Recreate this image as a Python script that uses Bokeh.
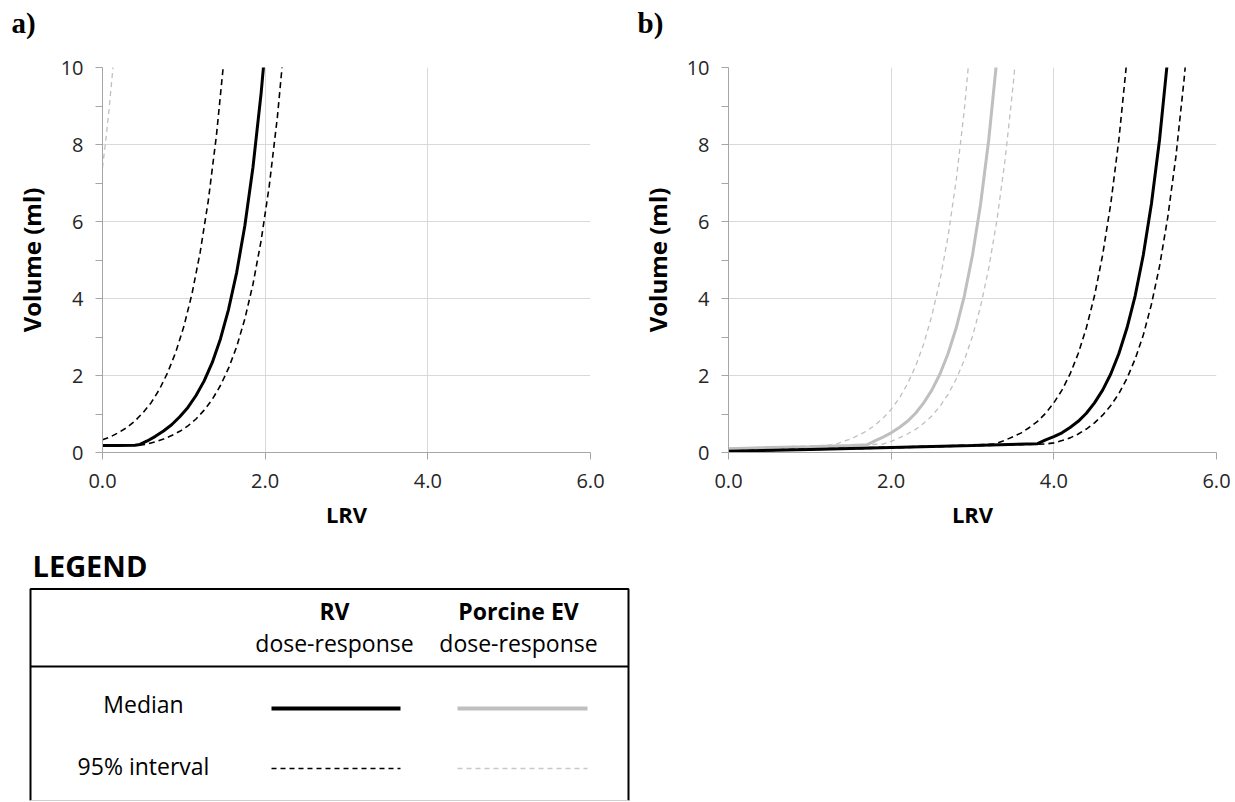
from bokeh.plotting import figure
from bokeh.layouts import column, row
from bokeh.models import Range1d, FixedTicker, NumeralTickFormatter
from bokeh.core.properties import value
from bokeh.embed import file_html
from bokeh.resources import INLINE

# ---------------- data ----------------
x_ticks = [0, 2, 4, 6]
y_ticks = [0, 2, 4, 6, 8, 10]
y_minor = [1, 3, 5, 7, 9]

# Panel a) - RV dose-response
a_rv_med_lrv = [0.0, 0.2, 0.4, 0.46, 0.55, 0.65, 0.75, 0.85, 0.95, 1.05, 1.15, 1.25,
                1.35, 1.45, 1.55, 1.65, 1.75, 1.85, 1.95, 2.0]
a_rv_med_vol = [0.18, 0.18, 0.19, 0.21, 0.30, 0.42, 0.56, 0.72, 0.93, 1.17, 1.48, 1.86,
                2.34, 2.95, 3.72, 4.68, 5.89, 7.41, 9.33, 10.5]
a_rv_lo_lrv = [0.0, 0.1, 0.2, 0.3, 0.4, 0.5, 0.6, 0.7, 0.8, 0.9, 1.0, 1.1, 1.2, 1.3, 1.4, 1.5]
a_rv_lo_vol = [0.33, 0.41, 0.52, 0.65, 0.82, 1.04, 1.30, 1.64, 2.07, 2.60, 3.27, 4.12,
               5.19, 6.53, 8.22, 10.35]
a_rv_hi_lrv = [0.45, 0.55, 0.65, 0.75, 0.85, 0.95, 1.05, 1.15, 1.25, 1.35, 1.45, 1.55,
               1.65, 1.75, 1.85, 1.95, 2.05, 2.15, 2.25]
a_rv_hi_vol = [0.19, 0.22, 0.28, 0.35, 0.44, 0.55, 0.69, 0.87, 1.10, 1.38, 1.74, 2.19,
               2.75, 3.47, 4.37, 5.50, 6.92, 8.71, 10.96]
# Panel a) - porcine EV (only the lower 95% bound is visible)
a_ev_lo_lrv = [0.0, 0.04, 0.08, 0.12, 0.13]
a_ev_lo_vol = [7.4, 8.1, 8.9, 9.8, 10.05]

# Panel b) - porcine EV dose-response
b_ev_med_lrv = [0.0, 0.5, 1.0, 1.5, 1.7, 1.8, 1.9, 2.0, 2.1, 2.2, 2.3, 2.4, 2.5, 2.6,
                2.7, 2.8, 2.9, 3.0, 3.1, 3.2, 3.3]
b_ev_med_vol = [0.10, 0.13, 0.15, 0.18, 0.20, 0.30, 0.40, 0.51, 0.65, 0.81, 1.02, 1.29,
                1.62, 2.04, 2.57, 3.24, 4.07, 5.13, 6.46, 8.13, 10.23]
b_ev_lo_lrv = [0.0, 0.5, 1.0, 1.3, 1.4, 1.5, 1.6, 1.7, 1.8, 1.9, 2.0, 2.1, 2.2, 2.3,
               2.4, 2.5, 2.6, 2.7, 2.8, 2.9, 3.0]
b_ev_lo_vol = [0.11, 0.14, 0.17, 0.20, 0.28, 0.35, 0.45, 0.56, 0.71, 0.89, 1.12, 1.41,
               1.78, 2.24, 2.82, 3.55, 4.47, 5.62, 7.08, 8.91, 11.2]
b_ev_hi_lrv = [0.0, 1.0, 1.9, 2.0, 2.1, 2.2, 2.3, 2.4, 2.5, 2.6, 2.7, 2.8, 2.9, 3.0,
               3.1, 3.2, 3.3, 3.4, 3.5, 3.55]
b_ev_hi_vol = [0.09, 0.14, 0.22, 0.29, 0.38, 0.48, 0.60, 0.76, 0.95, 1.20, 1.51, 1.91,
               2.40, 3.02, 3.80, 4.79, 6.03, 7.59, 9.55, 10.7]

# Panel b) - RV dose-response
b_rv_med_lrv = [0.0, 1.0, 2.0, 3.0, 3.8, 3.9, 4.0, 4.1, 4.2, 4.3, 4.4, 4.5, 4.6, 4.7,
                4.8, 4.9, 5.0, 5.1, 5.2, 5.3, 5.4]
b_rv_med_vol = [0.03, 0.08, 0.13, 0.18, 0.23, 0.33, 0.41, 0.51, 0.65, 0.81, 1.02, 1.29,
                1.62, 2.04, 2.57, 3.24, 4.07, 5.13, 6.46, 8.13, 10.23]
b_rv_lo_lrv = [0.0, 1.0, 2.0, 3.0, 3.27, 3.4, 3.5, 3.6, 3.7, 3.8, 3.9, 4.0, 4.1, 4.2,
               4.3, 4.4, 4.5, 4.6, 4.7, 4.8, 4.9]
b_rv_lo_vol = [0.04, 0.09, 0.14, 0.19, 0.22, 0.32, 0.41, 0.51, 0.65, 0.81, 1.02, 1.29,
               1.62, 2.04, 2.57, 3.24, 4.07, 5.13, 6.46, 8.13, 10.23]
b_rv_hi_lrv = [0.0, 2.0, 3.9, 4.0, 4.1, 4.2, 4.3, 4.4, 4.5, 4.6, 4.7, 4.8, 4.9, 5.0,
               5.1, 5.2, 5.3, 5.4, 5.5, 5.6, 5.65]
b_rv_hi_vol = [0.03, 0.12, 0.22, 0.25, 0.31, 0.38, 0.48, 0.61, 0.77, 0.97, 1.22, 1.53,
               1.93, 2.43, 3.05, 3.85, 4.84, 6.10, 7.67, 9.66, 10.8]

# ---------------- styling ----------------
FONT = "Open Sans"
AXIS_GRAY = "#a6a6a6"
GRID_GRAY = "#d9d9d9"
BLACK = "#000000"
LIGHT = "#bfbfbf"


def make_panel(label, width, left, right):
    p = figure(width=width, height=545, x_range=Range1d(0, 6), y_range=Range1d(0, 10),
               toolbar_location=None, output_backend="svg",
               min_border_left=left, min_border_right=right,
               min_border_top=67, min_border_bottom=93)
    p.outline_line_color = None
    p.background_fill_color = "white"
    p.border_fill_color = "white"

    # panel letter; the empty second line lifts it towards the top of the page
    p.title.text = label + "\n"
    p.title.text_font = "Liberation Serif"
    p.title.text_font_style = "bold"
    p.title.text_font_size = "29px"
    p.title.text_color = BLACK
    p.title.text_line_height = 0.8
    p.title.standoff = 5
    p.title.align = "left"
    p.title.offset = -91

    xa = p.xaxis[0]
    xa.ticker = FixedTicker(ticks=x_ticks, minor_ticks=[])
    xa.formatter = NumeralTickFormatter(format="0.0")
    xa.axis_label = "LRV"
    ya = p.yaxis[0]
    ya.ticker = FixedTicker(ticks=y_ticks, minor_ticks=y_minor)
    ya.axis_label = "Volume (ml)"

    for ax in (xa, ya):
        ax.axis_line_color = AXIS_GRAY
        ax.major_tick_line_color = AXIS_GRAY
        ax.minor_tick_line_color = AXIS_GRAY
        ax.major_tick_in = 0
        ax.major_tick_out = 7
        ax.minor_tick_in = 0
        ax.minor_tick_out = 7
        ax.major_label_text_font = FONT
        ax.major_label_text_font_size = "20px"
        ax.major_label_text_color = "#262626"
        ax.axis_label_text_font = FONT
        ax.axis_label_text_font_style = "bold"
        ax.axis_label_text_font_size = "22px"
        ax.axis_label_text_color = BLACK
    ya.axis_label_text_font_size = "24px"
    xa.minor_tick_line_color = None
    xa.major_label_standoff = 14
    xa.axis_label_standoff = 8
    ya.major_label_standoff = 12
    ya.axis_label_standoff = 10

    p.xgrid.ticker = FixedTicker(ticks=x_ticks)
    p.ygrid.ticker = FixedTicker(ticks=y_ticks)
    p.grid.grid_line_color = GRID_GRAY
    p.grid.grid_line_width = 1
    return p


pa = make_panel("a)", 620, 102, 30)
pa.line(a_ev_lo_lrv, a_ev_lo_vol, line_color=LIGHT, line_width=1.3, line_dash="5 4")
pa.line(a_rv_lo_lrv, a_rv_lo_vol, line_color=BLACK, line_width=1.6, line_dash="6 4")
pa.line(a_rv_hi_lrv, a_rv_hi_vol, line_color=BLACK, line_width=1.6, line_dash="6 4")
pa.line(a_rv_med_lrv, a_rv_med_vol, line_color=BLACK, line_width=3)

pb = make_panel("b)", 611, 108, 15)
pb.line(b_ev_lo_lrv, b_ev_lo_vol, line_color=LIGHT, line_width=1.3, line_dash="5 4")
pb.line(b_ev_hi_lrv, b_ev_hi_vol, line_color=LIGHT, line_width=1.3, line_dash="5 4")
pb.line(b_ev_med_lrv, b_ev_med_vol, line_color=LIGHT, line_width=3)
pb.line(b_rv_lo_lrv, b_rv_lo_vol, line_color=BLACK, line_width=1.6, line_dash="6 4")
pb.line(b_rv_hi_lrv, b_rv_hi_vol, line_color=BLACK, line_width=1.6, line_dash="6 4")
pb.line(b_rv_med_lrv, b_rv_med_vol, line_color=BLACK, line_width=3)

# ---------------- legend table ----------------
legend_cols = ["RV", "Porcine EV"]
legend_rows = ["Median", "95% interval"]

pl = figure(width=640, height=257, x_range=Range1d(0, 640), y_range=Range1d(802, 545),
            toolbar_location=None, output_backend="svg", min_border=0,
            x_axis_location=None, y_axis_location=None)
pl.grid.visible = False
pl.outline_line_color = None
pl.background_fill_color = "white"
pl.border_fill_color = "white"

pl.text(x=[32], y=[565], text=["LEGEND"], text_font=value(FONT), text_font_style="bold",
        text_font_size="29px", text_align="left", text_baseline="middle", text_color=BLACK)
# box + header separator
pl.multi_line(xs=[[30, 30, 628, 628], [30, 628]], ys=[[800, 588.5, 588.5, 800], [666, 666]],
              line_color=BLACK, line_width=2)
pl.line(x=[30, 628], y=[800, 800], line_color="#d0d0d0", line_width=1)

col_x = [334, 518]
pl.text(x=col_x, y=[610, 610], text=legend_cols, text_font=value(FONT),
        text_font_style="bold", text_font_size="23px", text_align="center",
        text_baseline="middle", text_color=BLACK)
pl.text(x=col_x, y=[642, 642], text=["dose-response", "dose-response"], text_font=value(FONT),
        text_font_size="23px", text_align="center", text_baseline="middle", text_color=BLACK)
pl.text(x=[143, 143], y=[703, 765], text=legend_rows, text_font=value(FONT),
        text_font_size="23px", text_align="center", text_baseline="middle", text_color=BLACK)
# sample lines
pl.line(x=[271, 400], y=[708, 708], line_color=BLACK, line_width=4)
pl.line(x=[457, 587], y=[708, 708], line_color=LIGHT, line_width=4)
pl.line(x=[271, 400], y=[768, 768], line_color=BLACK, line_width=1.3, line_dash="5 4")
pl.line(x=[457, 587], y=[768, 768], line_color="#c8c8c8", line_width=1.3, line_dash="5 4")

layout = column(row(pa, pb), pl)
open("out.html", "w").write(file_html(layout, INLINE))
